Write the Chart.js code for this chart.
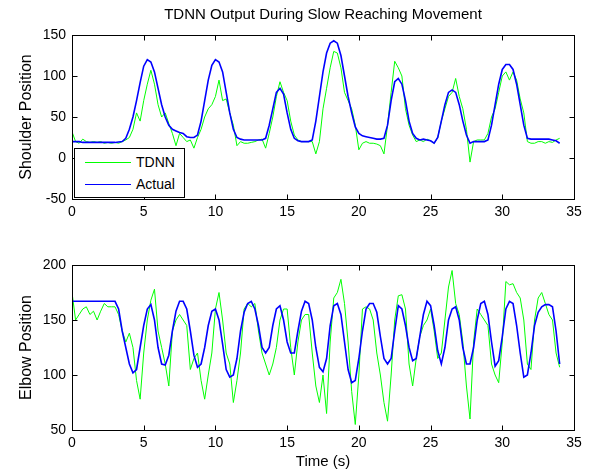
<!DOCTYPE html>
<html>
<head>
<meta charset="utf-8">
<script src="https://cdn.jsdelivr.net/npm/chart.js@4/dist/chart.umd.min.js"></script>
<style>
  html, body { margin: 0; padding: 0; background: #fff; }
  #wrap { position: relative; width: 589px; height: 472px; overflow: hidden; }
  canvas { position: absolute; left: 0; }
  #c1 { top: 0; }
  #c2 { top: 240px; }
  .legend { position: absolute; background: #fff; border: 1px solid #000; box-sizing: border-box;
            font-family: "Liberation Sans", Arial, sans-serif; font-size: 14px; color: #000; }
  .legend .row { position: absolute; left: 0; height: 16px; line-height: 16px; }
  .legend .sample { position: absolute; left: 10px; width: 46px; top: 8px; }
  .legend .txt { position: absolute; left: 61px; top: 0; white-space: nowrap; }
</style>
</head>
<body>
<div id="wrap">
  <canvas id="c1" width="589" height="240"></canvas>
  <canvas id="c2" width="589" height="232"></canvas>
  <div id="leg" class="legend" style="left:74px; top:148px; width:111px; height:50px;"></div>
</div>
<script>
// ---- data (sampled every 0.25 s, starting at 0 s) ----
const timeStart = 0;
const timeStep = 0.25;
const chartTitle = "TDNN Output During Slow Reaching Movement";
const seriesNames = ["TDNN", "Actual"];
const xTitle = "Time (s)";
const yTitleTop = "Shoulder Position";
const yTitleBottom = "Elbow Position";
const xTicks = [0, 5, 10, 15, 20, 25, 30, 35];
const yTicksTop = [-50, 0, 50, 100, 150];
const yTicksBottom = [50, 100, 150, 200];

const shoulderActual = [
  20,20,20,19, 19,19,19,19, 19,19,19,19, 19,19.5,20,24,
  35,50,70,92, 112,120,117,105, 85,65,50,40, 35,33,31,30,
  26,25,25,28, 45,70,95,113, 120,117,105,80, 55,35,25,23,
  22,22,22,22, 22,22,24,40, 60,80,85,78, 55,35,24,21,
  20,20,20,22, 45,75,105,128, 140,143,140,125, 100,75,55,38,
  30,27,26,25, 24,23,23,24, 40,70,93,97, 90,70,45,30,
  24,22,23,22, 21,18,25,45, 65,80,83,80, 65,45,28,18,
  20,20,20,20, 22,40,65,90, 108,114,114,108, 90,65,40,24,
  23,23,23,23, 23,23,22,21, 18
];
const shoulderTDNN = [
  32,20,18,23, 20,19,20,19, 20,18,19,18, 19,18,20,22,
  25,35,55,45, 70,90,107,90, 65,50,55,42, 30,15,30,25,
  20,22,12,25, 35,50,60,65, 75,95,70,72, 55,40,15,20,
  18,18,19,20, 22,23,12,30, 50,75,93,80, 70,45,28,22,
  20,20,20,20, 5,20,60,85, 110,130,128,110, 80,70,60,40,
  10,18,20,18, 18,17,15,5, 40,80,118,110, 100,60,40,28,
  20,22,20,23, 21,18,25,45, 60,75,80,97, 75,60,35,-5,
  20,22,22,22, 30,50,60,80, 100,105,95,105, 95,72,55,20,
  18,18,20,20, 18,20,19,22, 24
];
const elbowActual = [
  167,167,167,167, 167,167,167,167, 167,167,167,167, 167,160,140,125,
  110,102,105,125, 145,160,164,150, 125,110,109,118, 140,158,167,167,
  160,140,118,107, 110,125,145,158, 160,150,128,105, 98,100,115,140,
  157,165,167,160, 145,125,120,125, 145,160,163,150, 130,120,120,140,
  158,167,165,150, 125,107,103,115, 145,163,165,155, 130,105,93,95,
  115,140,160,165, 165,157,135,115, 110,115,140,163, 160,145,125,113,
  115,135,155,167, 163,145,122,110, 125,150,160,162, 150,125,110,110,
  125,150,165,167, 155,130,108,113, 135,160,167,165, 145,120,98,100,
  120,145,157,162, 164,164,162,140, 110
];
const elbowTDNN = [
  175,150,155,160, 162,155,158,150, 158,165,162,162, 162,155,140,130,
  138,125,95,78, 120,150,168,178, 140,125,110,90, 140,150,155,150,
  145,105,115,120, 95,78,100,120, 160,175,150,120, 110,75,95,120,
  160,165,162,165, 140,120,110,100, 110,125,150,160, 160,125,100,130,
  150,155,155,120, 90,75,100,65, 130,170,175,187, 165,130,85,55,
  100,160,162,160, 150,120,100,75, 58,100,150,172, 173,160,110,90,
  115,135,145,150, 160,140,115,120, 150,180,195,165, 155,130,90,60,
  130,160,155,150, 145,110,100,93, 130,185,182,183, 175,170,150,110,
  105,150,170,175, 165,155,150,120, 107
];

// ---- styling ----
const FONT = "'Liberation Sans', Arial, Helvetica, sans-serif";
const GREEN = '#00ff00';
const BLUE = '#0000ff';

function toPoints(arr) {
  return arr.map((v, i) => ({ x: timeStart + i * timeStep, y: v }));
}

// MATLAB-like box with inward ticks on all four sides
const boxPlugin = {
  id: 'matlabBox',
  afterDatasetsDraw(chart) {
    const { ctx, chartArea: a, scales } = chart;
    ctx.save();
    ctx.strokeStyle = '#000';
    ctx.lineWidth = 1;
    const L = Math.round(a.left) + 0.5, R = Math.round(a.right) + 0.5;
    const T = Math.round(a.top) + 0.5, B = Math.round(a.bottom) + 0.5;
    ctx.strokeRect(L, T, R - L, B - T);
    const tl = 5;
    ctx.beginPath();
    scales.x.ticks.forEach(t => {
      const px = Math.round(scales.x.getPixelForValue(t.value)) + 0.5;
      ctx.moveTo(px, B); ctx.lineTo(px, B - tl);
      ctx.moveTo(px, T); ctx.lineTo(px, T + tl);
    });
    scales.y.ticks.forEach(t => {
      const py = Math.round(scales.y.getPixelForValue(t.value)) + 0.5;
      ctx.moveTo(L, py); ctx.lineTo(L + tl, py);
      ctx.moveTo(R, py); ctx.lineTo(R - tl, py);
    });
    ctx.stroke();
    ctx.restore();
  }
};

function makeChart(canvasId, tdnn, actual, yMin, yMax, yTicks, yTitle, opts) {
  const scales = {
    x: {
      type: 'linear', min: xTicks[0], max: xTicks[xTicks.length - 1],
      afterBuildTicks: s => { s.ticks = xTicks.map(v => ({ value: v })); },
      afterFit: s => { s.height = opts.xHeight; },
      grid: { display: false, drawTicks: false },
      border: { display: false },
      ticks: { color: '#000', padding: 5, maxRotation: 0, autoSkip: false,
               font: { family: FONT, size: 14 } },
      title: opts.xTitle ? { display: true, text: opts.xTitle, color: '#000',
               font: { family: FONT, size: 15 }, padding: { top: 0, bottom: 1 } } : { display: false }
    },
    y: {
      type: 'linear', min: yMin, max: yMax,
      afterBuildTicks: s => { s.ticks = yTicks.map(v => ({ value: v })); },
      afterFit: s => { s.width = 72; },
      grid: { display: false, drawTicks: false },
      border: { display: false },
      ticks: { color: '#000', padding: 6, autoSkip: false,
               font: { family: FONT, size: 14 } },
      title: { display: true, text: yTitle, color: '#000',
               font: { family: FONT, size: 16 }, padding: { top: 17, bottom: 0 } }
    }
  };
  if (opts.title) {
    // title carried by a tick-less top axis so it is centred over the plot box
    scales.xTop = {
      type: 'linear', position: 'top', min: xTicks[0], max: xTicks[xTicks.length - 1],
      afterFit: s => { s.height = opts.padTopTitle; },
      grid: { display: false, drawTicks: false },
      border: { display: false },
      ticks: { display: false },
      title: { display: true, text: opts.title, color: '#000',
               font: { family: FONT, size: 15, weight: 'normal' }, padding: { top: 6, bottom: 0 } }
    };
  }
  return new Chart(document.getElementById(canvasId), {
    type: 'line',
    data: {
      datasets: [
        { label: seriesNames[0], data: toPoints(tdnn), borderColor: GREEN, borderWidth: 1,
          pointRadius: 0, tension: 0, fill: false, order: 1 },
        { label: seriesNames[1], data: toPoints(actual), borderColor: BLUE, borderWidth: 1.6,
          pointRadius: 0, tension: 0, fill: false, order: 0 }
      ]
    },
    options: {
      responsive: false,
      animation: false,
      events: [],
      layout: { padding: { left: 0, right: 15, top: opts.padTop, bottom: 0 } },
      plugins: {
        legend: { display: false },
        tooltip: { enabled: false },
        title: { display: false }
      },
      scales
    },
    plugins: [boxPlugin]
  });
}

const chart1 = makeChart('c1', shoulderTDNN, shoulderActual, yTicksTop[0], yTicksTop[yTicksTop.length - 1],
  yTicksTop, yTitleTop, { padTop: 0, padTopTitle: 35, title: chartTitle, xHeight: 41, xTitle: null });
const chart2 = makeChart('c2', elbowTDNN, elbowActual, yTicksBottom[0], yTicksBottom[yTicksBottom.length - 1],
  yTicksBottom, yTitleBottom, { padTop: 25, title: null, xHeight: 42, xTitle: xTitle });

// legend (HTML, built from the datasets)
const leg = document.getElementById('leg');
chart1.data.datasets.forEach((ds, i) => {
  const row = document.createElement('div');
  row.className = 'row';
  row.style.top = (5 + i * 22) + 'px';
  row.style.width = '100%';
  const sample = document.createElement('div');
  sample.className = 'sample';
  sample.style.borderTop = (i === 0 ? 1 : 1.6) + 'px solid ' + ds.borderColor;
  const txt = document.createElement('div');
  txt.className = 'txt';
  txt.textContent = ds.label;
  row.appendChild(sample);
  row.appendChild(txt);
  leg.appendChild(row);
});
</script>
</body>
</html>
